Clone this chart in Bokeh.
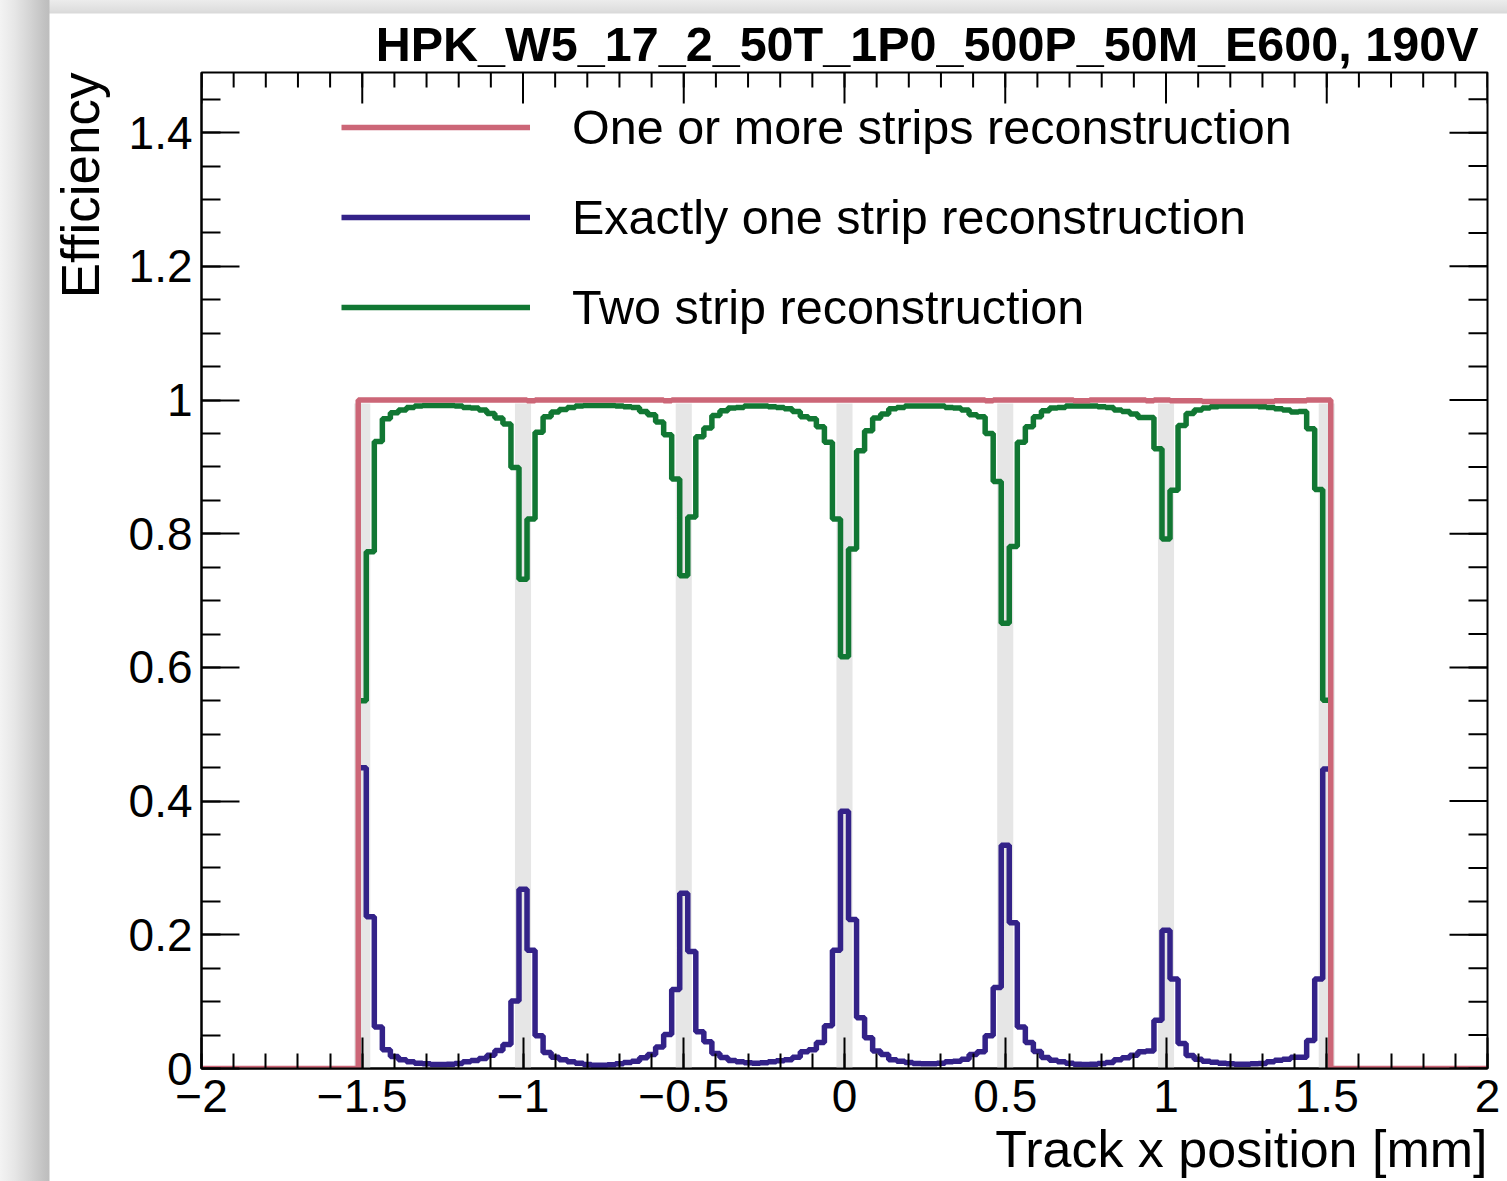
import math
from bokeh.plotting import figure
from bokeh.models import (Range1d, FixedTicker, Legend, LegendItem, CustomJSTickFormatter, Title)
from bokeh.embed import file_html
from bokeh.resources import INLINE

# ---------------- data ----------------
bin_width = 0.025
n_bins = 121
bin_centers = [round(-1.5 + bin_width * i, 4) for i in range(n_bins)]
strip_positions = [-1.5, -1.0, -0.5, 0.0, 0.5, 1.0, 1.5]
strip_metal_width = 0.05

one_or_more = [
    1.000, 1.000, 1.000, 1.000, 1.000, 1.000, 1.000, 1.000, 1.000, 1.000,
    1.000, 1.000, 1.000, 1.000, 1.000, 1.000, 1.000, 1.000, 1.000, 1.000,
    1.000, 0.999, 1.000, 1.000, 1.000, 1.000, 1.000, 1.000, 1.000, 1.000,
    1.000, 1.000, 1.000, 1.000, 1.000, 1.000, 1.000, 1.000, 0.999, 1.000,
    1.000, 1.000, 1.000, 1.000, 1.000, 1.000, 1.000, 1.000, 1.000, 1.000,
    1.000, 1.000, 1.000, 1.000, 1.000, 1.000, 1.000, 1.000, 1.000, 1.000,
    1.000, 1.000, 1.000, 1.000, 1.000, 1.000, 1.000, 1.000, 1.000, 1.000,
    1.000, 1.000, 1.000, 1.000, 1.000, 1.000, 1.000, 1.000, 0.999, 1.000,
    1.000, 1.000, 1.000, 1.000, 1.000, 1.000, 1.000, 1.000, 1.000, 0.999,
    0.999, 1.000, 1.000, 1.000, 1.000, 1.000, 1.000, 1.000, 0.999, 1.000,
    1.000, 0.999, 0.999, 0.999, 0.999, 0.998, 0.998, 0.998, 0.998, 0.998,
    0.998, 0.998, 0.998, 0.998, 0.999, 0.999, 0.999, 0.999, 1.000, 1.000,
    1.000]

exactly_one = [
    0.450, 0.227, 0.062, 0.028, 0.018, 0.013, 0.010, 0.008, 0.007, 0.006,
    0.006, 0.0065, 0.0075, 0.010, 0.012, 0.015, 0.020, 0.027, 0.036, 0.101,
    0.268, 0.177, 0.049, 0.024, 0.017, 0.013, 0.010, 0.008, 0.006, 0.005,
    0.005, 0.0055, 0.007, 0.009, 0.011, 0.016, 0.021, 0.032, 0.051, 0.118,
    0.262, 0.175, 0.055, 0.040, 0.0225, 0.0165, 0.012, 0.010, 0.0085, 0.008,
    0.0085, 0.010, 0.0115, 0.013, 0.017, 0.025, 0.028, 0.039, 0.064, 0.177,
    0.385, 0.223, 0.076, 0.046, 0.026, 0.021, 0.013, 0.011, 0.009, 0.0075,
    0.007, 0.007, 0.008, 0.010, 0.011, 0.014, 0.021, 0.025, 0.049, 0.121,
    0.334, 0.218, 0.062, 0.039, 0.0255, 0.0165, 0.0125, 0.010, 0.008, 0.0065,
    0.006, 0.0065, 0.0075, 0.009, 0.013, 0.016, 0.020, 0.025, 0.026, 0.072,
    0.207, 0.134, 0.0375, 0.0195, 0.014, 0.011, 0.0095, 0.008, 0.007, 0.0065,
    0.0065, 0.007, 0.0075, 0.010, 0.0125, 0.014, 0.017, 0.017, 0.042, 0.134,
    0.448]

two_strip = [
    0.550, 0.773, 0.938, 0.972, 0.981, 0.985, 0.989, 0.991, 0.992, 0.992,
    0.992, 0.992, 0.991, 0.989, 0.988, 0.985, 0.980, 0.973, 0.964, 0.899,
    0.732, 0.822, 0.952, 0.975, 0.982, 0.986, 0.989, 0.991, 0.992, 0.992,
    0.992, 0.992, 0.991, 0.990, 0.989, 0.983, 0.978, 0.967, 0.948, 0.882,
    0.737, 0.825, 0.945, 0.958, 0.977, 0.984, 0.988, 0.989, 0.991, 0.991,
    0.991, 0.990, 0.989, 0.987, 0.983, 0.975, 0.972, 0.960, 0.937, 0.822,
    0.616, 0.777, 0.924, 0.954, 0.973, 0.979, 0.987, 0.989, 0.991, 0.991,
    0.991, 0.991, 0.991, 0.989, 0.988, 0.985, 0.978, 0.975, 0.950, 0.878,
    0.666, 0.781, 0.937, 0.960, 0.975, 0.984, 0.988, 0.989, 0.991, 0.991,
    0.991, 0.991, 0.990, 0.989, 0.985, 0.983, 0.979, 0.974, 0.974, 0.927,
    0.792, 0.865, 0.962, 0.980, 0.985, 0.988, 0.990, 0.991, 0.991, 0.991,
    0.991, 0.991, 0.990, 0.989, 0.987, 0.985, 0.982, 0.983, 0.957, 0.866,
    0.551]

x_major_ticks = [-2.0, -1.5, -1.0, -0.5, 0.0, 0.5, 1.0, 1.5, 2.0]
y_major_ticks = [0.0, 0.2, 0.4, 0.6, 0.8, 1.0, 1.2, 1.4]

title_text = "HPK_W5_17_2_50T_1P0_500P_50M_E600, 190V"
x_title = "Track x position [mm]"
y_title = "Efficiency"
labels = ["One or more strips reconstruction",
          "Exactly one strip reconstruction",
          "Two strip reconstruction"]

# ---------------- styling ----------------
FONT = "Liberation Sans"
C_RED = "#cc6677"
C_BLUE = "#332288"
C_GREEN = "#117733"
LW = 5.5

XMIN, XMAX = -2.0, 2.0
YMIN, YMAX = 0.0, 1.49

p = figure(width=1507, height=1181, x_range=Range1d(XMIN, XMAX), y_range=Range1d(YMIN, YMAX),
           output_backend="svg", toolbar_location=None,
           min_border_left=201, min_border_right=20, min_border_top=72, min_border_bottom=113)
# page with a soft shadow along its left and top edges (as in the reference image)
p.styles = {"background":
            "linear-gradient(to right, #f3f3f3 0px, #e7e7e7 14px, #d4d4d4 30px, "
            "#c2c2c2 44px, #bdbdbd 49px, rgba(255,255,255,0) 50px), "
            "linear-gradient(to bottom, #ececec 0px, #dfdfdf 10px, #d9d9d9 13px, #ffffff 14px)"}
p.background_fill_color = "white"
p.border_fill_alpha = 0
p.grid.visible = False
p.outline_line_color = "black"
p.outline_line_width = 2

# title (top right)
p.title.text = title_text
p.title.align = "right"
p.title.text_font = FONT
p.title.text_font_style = "bold"
p.title.text_font_size = "48.5px"
p.title.text_color = "black"
p.title.standoff = 3
p.title.offset = 9

# bin edges
edges = [c - bin_width / 2 for c in bin_centers] + [bin_centers[-1] + bin_width / 2]

# strip metal bands
p.vbar(x=strip_positions, width=strip_metal_width, bottom=0, top=0.995,
       fill_color="#e6e6e6", line_color=None)

r_blue = p.step(x=edges, y=exactly_one + [exactly_one[-1]], mode="after",
                line_color=C_BLUE, line_width=LW)
r_green = p.step(x=edges, y=two_strip + [two_strip[-1]], mode="after",
                 line_color=C_GREEN, line_width=LW)
red_x = [XMIN] + edges + [XMAX]
red_y = [0.0] + one_or_more + [0.0, 0.0]
r_red = p.step(x=red_x, y=red_y, mode="after", line_color=C_RED, line_width=LW)

# ---------------- axes ----------------
fmt = CustomJSTickFormatter(code="return tick < 0 ? '\u2212' + String(-tick) : String(tick);")
x_minor = [round(-2.0 + 0.1 * k, 2) for k in range(41)]
y_minor = [round(0.05 * k, 2) for k in range(30)]
xt = FixedTicker(ticks=x_major_ticks, minor_ticks=x_minor)
yt = FixedTicker(ticks=y_major_ticks, minor_ticks=y_minor)


def style_axis(ax, major_len, minor_len):
    ax.axis_line_width = 2
    ax.axis_line_color = "black"
    ax.major_tick_in = major_len
    ax.major_tick_out = 0
    ax.minor_tick_in = minor_len
    ax.minor_tick_out = 0
    ax.major_tick_line_width = 2
    ax.minor_tick_line_width = 2
    ax.major_tick_line_color = "black"
    ax.minor_tick_line_color = "black"
    ax.major_label_text_font = FONT
    ax.major_label_text_font_size = "46px"
    ax.major_label_text_color = "black"


xa = p.xaxis[0]
xa.ticker = xt
xa.formatter = fmt
style_axis(xa, 31, 15)
xa.major_label_standoff = 11

ya = p.yaxis[0]
ya.ticker = yt
ya.formatter = fmt
style_axis(ya, 38, 19)
ya.major_label_standoff = 9

# axis titles, right-aligned at the end of each axis (ROOT style)
p.add_layout(Title(text=x_title, align="right", text_font=FONT, text_font_style="normal",
                   text_font_size="52px", text_color="black", standoff=7, offset=0), "below")
p.add_layout(Title(text=y_title, align="right", text_font=FONT, text_font_style="normal",
                   text_font_size="53px", text_color="black", standoff=31, offset=0), "left")

# ticks on the top and right frame edges (drawn inside the frame, as in the reference)
p.scatter(x=x_major_ticks, y=[YMAX] * len(x_major_ticks), marker="dash", angle=math.pi / 2,
          size=62, line_color="black", line_width=2)
p.scatter(x=x_minor, y=[YMAX] * len(x_minor), marker="dash", angle=math.pi / 2,
          size=30, line_color="black", line_width=2)
p.scatter(x=[XMAX] * len(y_major_ticks), y=y_major_ticks, marker="dash",
          size=76, line_color="black", line_width=2)
p.scatter(x=[XMAX] * len(y_minor), y=y_minor, marker="dash",
          size=38, line_color="black", line_width=2)

legend = Legend(items=[LegendItem(label=labels[0], renderers=[r_red]),
                       LegendItem(label=labels[1], renderers=[r_blue]),
                       LegendItem(label=labels[2], renderers=[r_green])],
                location=(140, 731), glyph_width=189, glyph_height=60, label_height=60,
                label_standoff=42, spacing=30, padding=0, margin=0,
                border_line_color=None, background_fill_alpha=0,
                label_text_font=FONT, label_text_font_size="48.5px", label_text_color="black")
p.add_layout(legend)

open("out.html", "w").write(file_html(p, INLINE))
